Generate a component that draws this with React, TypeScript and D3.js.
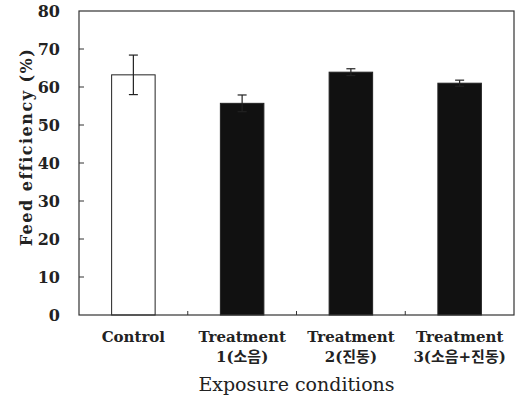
import * as d3 from 'd3';

const categories = ['Control', 'Treatment 1', 'Treatment 2', 'Treatment 3'];
const labelLines = [
  ['Control'],
  ['Treatment', '1(소음)'],
  ['Treatment', '2(진동)'],
  ['Treatment', '3(소음+진동)'],
];
const means = [63.2, 55.7, 63.9, 61.0];
const errors = [5.2, 2.2, 0.9, 0.8];
const fills = ['#ffffff', '#111111', '#111111', '#111111'];
const yTicks = [0, 10, 20, 30, 40, 50, 60, 70, 80];

const W = 520;
const H = 397;
const margin = { top: 11, right: 6, bottom: 82, left: 79 };
const serif = '"DejaVu Serif", "Noto Sans CJK KR", serif';

export default function App() {
  const innerW = W - margin.left - margin.right;
  const innerH = H - margin.top - margin.bottom;

  const x = d3.scaleBand<string>().domain(categories).range([0, innerW]).paddingInner(0.6).paddingOuter(0.3);
  const band = d3.scaleBand<string>().domain(categories).range([0, innerW]);
  const y = d3.scaleLinear().domain([0, 80]).range([innerH, 0]);

  return (
    <svg width={W} height={H} style={{ position: 'absolute', left: 0, top: 0, background: '#fff' }}>
      <g transform={`translate(${margin.left},${margin.top})`}>
        {/* bars */}
        {categories.map((c, i) => (
          <rect key={c} x={x(c)} y={y(means[i])} width={x.bandwidth()} height={innerH - y(means[i])}
            fill={fills[i]} stroke="#222" strokeWidth={1} />
        ))}
        {/* error bars */}
        {categories.map((c, i) => {
          const cx = (x(c) as number) + x.bandwidth() / 2;
          return (
            <g key={c} stroke="#222" strokeWidth={1.2}>
              <line x1={cx} x2={cx} y1={y(means[i] + errors[i])} y2={y(means[i] - errors[i])} />
              <line x1={cx - 4.5} x2={cx + 4.5} y1={y(means[i] + errors[i])} y2={y(means[i] + errors[i])} />
              <line x1={cx - 4.5} x2={cx + 4.5} y1={y(means[i] - errors[i])} y2={y(means[i] - errors[i])} />
            </g>
          );
        })}
        {/* frame */}
        <rect x={0} y={0} width={innerW} height={innerH} fill="none" stroke="#333" strokeWidth={1.2} />
        {/* y ticks */}
        {yTicks.map(t => (
          <g key={t} transform={`translate(0,${y(t)})`}>
            {t > 0 && t < 80 && <line x1={0} x2={5} stroke="#333" />}
            <text x={-19} dy="0.36em" textAnchor="end" fontFamily={serif} fontWeight="bold" fontSize={16} fill="#222">{t}</text>
          </g>
        ))}
        {/* x ticks at category boundaries */}
        {categories.slice(1).map(c => (
          <line key={c} x1={band(c)} x2={band(c)} y1={innerH} y2={innerH - 4} stroke="#333" />
        ))}
        {/* x labels */}
        {categories.map((c, i) => (
          <text key={c} textAnchor="middle" fontFamily={serif} fontWeight="bold" fontSize={15} fill="#222">
            {labelLines[i].map((l, j) => (
              <tspan key={j} x={(band(c) as number) + band.bandwidth() / 2} y={innerH + 27 + j * 20}>{l}</tspan>
            ))}
          </text>
        ))}
        <text x={innerW / 2} y={innerH + 76} textAnchor="middle" fontFamily={serif} fontSize={19} fill="#222">Exposure conditions</text>
        <text transform={`translate(-47,${innerH / 2 - 16}) rotate(-90)`} textAnchor="middle" fontFamily={serif}
          fontWeight="bold" fontSize={16} letterSpacing={1.5} fill="#222">Feed efficiency (%)</text>
      </g>
    </svg>
  );
}
